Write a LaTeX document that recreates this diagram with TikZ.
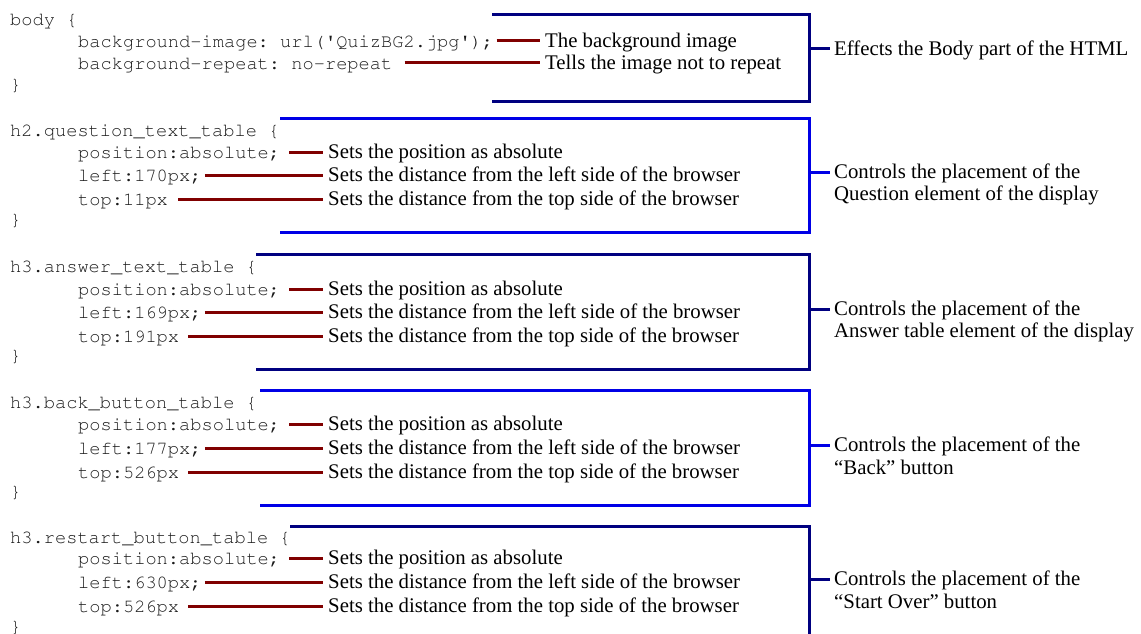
\documentclass[tikz,border=0pt]{standalone}
\usepackage{fontspec}
\setmainfont{Liberation Serif}
\newcommand\codefont{\fontencoding{T1}\fontfamily{pcr}\selectfont\frenchspacing}
\definecolor{navy}{HTML}{000080}
\definecolor{brblue}{HTML}{0000E6}
\definecolor{maroon}{HTML}{800000}
\definecolor{codegray}{HTML}{1A1A1A}

\begin{document}
\begin{tikzpicture}[
  x=1pt, y=-1pt,
  code/.style={anchor=west, inner sep=0pt, text height=17pt, text depth=4pt,
    font=\codefont\fontsize{18.7}{23}\selectfont, text=codegray},
  desc/.style={anchor=west, inner xsep=5pt, inner ysep=0pt, text height=18pt, text depth=5pt,
    font=\fontsize{20.8}{23}\selectfont, text=black},
  lab/.style={desc, inner xsep=4pt},
  ptr/.style={maroon, line width=3pt},
  brk/.style={line width=3pt, line join=miter},
]

% Canvas (1141 x 634 px)
\clip (0,0) rectangle (1141,634);
\fill[white] (0,0) rectangle (1141,634);

% === Block 1: body (navy) ===
\node[code] (b0) at (10,19) {body \{};
\node[code] (b1) at (78,41) {background-image: url(\textquotesingle QuizBG2.jpg\textquotesingle);};
\node[code] (b2) at (78,63) {background-repeat: no-repeat};
\node[code] (b3) at (10,84) {\}};
\node[desc] (b1d) at (540,41) {The background image};
\node[desc] (b2d) at (540,63) {Tells the image not to repeat};
\draw[ptr] ([xshift=3pt]b1.east) -- (b1d.west);
\draw[ptr] ([xshift=12pt]b2.east) -- (b2d.west);

\coordinate (bTL) at (492,15);  \coordinate (bTR) at (809,15);
\coordinate (bBR) at (809,101); \coordinate (bBL) at (492,101);
\draw[brk, navy] (bTL) -- (bTR) -- (bBR) -- (bBL);
\node[lab] (bl) at (830,49) {Effects the Body part of the HTML};
\draw[brk, navy] (bTR |- bl.west) -- (bl.west);

% === Block 2: h2.question_text_table (bright blue) ===
\node[code] (q0) at (10,130) {h2.question\_text\_table \{};
\node[code] (q1) at (78,152) {position:absolute;};
\node[code] (q2) at (78,175) {left:170px;};
\node[code] (q3) at (78,199) {top:11px};
\node[code] (q4) at (10,219) {\}};
\node[desc] (q1d) at (323,152) {Sets the position as absolute};
\node[desc] (q2d) at (323,175) {Sets the distance from the left side of the browser};
\node[desc] (q3d) at (323,199) {Sets the distance from the top side of the browser};
\draw[ptr] ([xshift=9pt]q1.east) -- (q1d.west);
\draw[ptr] ([xshift=3pt]q2.east) -- (q2d.west);
\draw[ptr] ([xshift=10pt]q3.east) -- (q3d.west);

\coordinate (qTL) at (280,118); \coordinate (qTR) at (809,118);
\coordinate (qBR) at (809,232); \coordinate (qBL) at (280,232);
\draw[brk, brblue] (qTL) -- (qTR) -- (qBR) -- (qBL);
\node[lab] (ql1) at (830,172) {Controls the placement of the};
\node[lab] (ql2) at (830,194) {Question element of the display};
\draw[brk, brblue] (qTR |- ql1.west) -- (ql1.west);

% === Block 3: h3.answer_text_table (navy) ===
\node[code] (a0) at (10,266) {h3.answer\_text\_table \{};
\node[code] (a1) at (78,289) {position:absolute;};
\node[code] (a2) at (78,312) {left:169px;};
\node[code] (a3) at (78,336) {top:191px};
\node[code] (a4) at (10,355) {\}};
\node[desc] (a1d) at (323,289) {Sets the position as absolute};
\node[desc] (a2d) at (323,312) {Sets the distance from the left side of the browser};
\node[desc] (a3d) at (323,336) {Sets the distance from the top side of the browser};
\draw[ptr] ([xshift=9pt]a1.east) -- (a1d.west);
\draw[ptr] ([xshift=3pt]a2.east) -- (a2d.west);
\draw[ptr] ([xshift=9pt]a3.east) -- (a3d.west);

\coordinate (aTL) at (256,254); \coordinate (aTR) at (809,254);
\coordinate (aBR) at (809,369); \coordinate (aBL) at (256,369);
\draw[brk, navy] (aTL) -- (aTR) -- (aBR) -- (aBL);
\node[lab] (al1) at (830,309) {Controls the placement of the};
\node[lab] (al2) at (830,331) {Answer table element of the display};
\draw[brk, navy] (aTR |- al1.west) -- (al1.west);

% === Block 4: h3.back_button_table (bright blue) ===
\node[code] (k0) at (10,402) {h3.back\_button\_table \{};
\node[code] (k1) at (78,424) {position:absolute;};
\node[code] (k2) at (78,448) {left:177px;};
\node[code] (k3) at (78,472) {top:526px};
\node[code] (k4) at (10,491) {\}};
\node[desc] (k1d) at (323,424) {Sets the position as absolute};
\node[desc] (k2d) at (323,448) {Sets the distance from the left side of the browser};
\node[desc] (k3d) at (323,472) {Sets the distance from the top side of the browser};
\draw[ptr] ([xshift=9pt]k1.east) -- (k1d.west);
\draw[ptr] ([xshift=3pt]k2.east) -- (k2d.west);
\draw[ptr] ([xshift=9pt]k3.east) -- (k3d.west);

\coordinate (kTL) at (260,390); \coordinate (kTR) at (809,390);
\coordinate (kBR) at (809,505); \coordinate (kBL) at (260,505);
\draw[brk, brblue] (kTL) -- (kTR) -- (kBR) -- (kBL);
\node[lab] (kl1) at (830,445) {Controls the placement of the};
\node[lab] (kl2) at (830,468) {“Back” button};
\draw[brk, brblue] (kTR |- kl1.west) -- (kl1.west);

% === Block 5: h3.restart_button_table (navy) ===
\node[code] (r0) at (10,537) {h3.restart\_button\_table \{};
\node[code] (r1) at (78,558) {position:absolute;};
\node[code] (r2) at (78,582) {left:630px;};
\node[code] (r3) at (78,606) {top:526px};
\node[code] (r4) at (10,626) {\}};
\node[desc] (r1d) at (323,558) {Sets the position as absolute};
\node[desc] (r2d) at (323,582) {Sets the distance from the left side of the browser};
\node[desc] (r3d) at (323,606) {Sets the distance from the top side of the browser};
\draw[ptr] ([xshift=9pt]r1.east) -- (r1d.west);
\draw[ptr] ([xshift=3pt]r2.east) -- (r2d.west);
\draw[ptr] ([xshift=9pt]r3.east) -- (r3d.west);

\coordinate (rTL) at (290,526); \coordinate (rTR) at (809,526);
\coordinate (rBR) at (809,645);
\draw[brk, navy] (rTL) -- (rTR) -- (rBR);
\node[lab] (rl1) at (830,579) {Controls the placement of the};
\node[lab] (rl2) at (830,602) {“Start Over” button};
\draw[brk, navy] (rTR |- rl1.west) -- (rl1.west);

\end{tikzpicture}
\end{document}
